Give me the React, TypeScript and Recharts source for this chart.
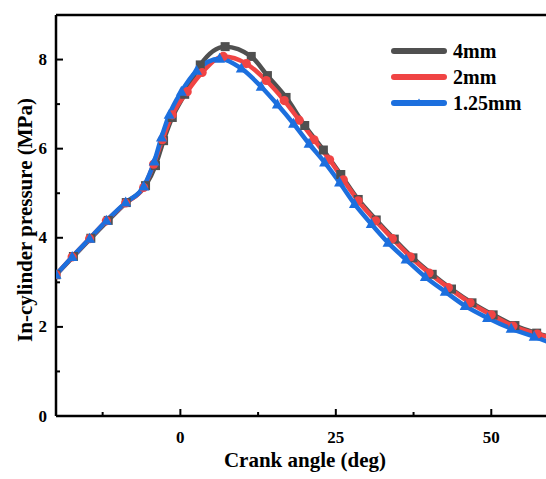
import React from 'react'
import { LineChart, Line, XAxis, YAxis, ReferenceLine, Label } from 'recharts'

// crank angle (deg) and pressure (MPa), one pair per series
const angle4mm = [-20, -17.2, -14.4, -11.6, -8.7, -5.6, -4.0, -2.7, -1.3, 0.7, 3.2, 7.2, 11.4, 14.0, 17.0, 20.0, 23.0, 25.8, 28.6, 31.5, 34.4, 37.4, 40.5, 43.6, 46.9, 50.3, 53.8, 57.3, 60]
const p4mm = [3.17, 3.58, 3.99, 4.39, 4.79, 5.17, 5.62, 6.18, 6.7, 7.22, 7.88, 8.29, 8.07, 7.64, 7.15, 6.52, 5.97, 5.42, 4.86, 4.4, 3.97, 3.55, 3.18, 2.85, 2.54, 2.27, 2.03, 1.86, 1.75]

const angle2mm = [-20, -17.4, -14.6, -11.9, -8.8, -5.9, -4.3, -2.9, -1.3, 1.1, 3.5, 6.9, 10.6, 13.8, 16.7, 19.1, 21.5, 24.0, 26.2, 28.6, 31.4, 34.1, 37.0, 40.0, 43.1, 46.6, 50.0, 53.5, 57.4, 60]
const p2mm = [3.17, 3.57, 3.98, 4.38, 4.78, 5.13, 5.65, 6.2, 6.76, 7.28, 7.71, 8.07, 7.91, 7.53, 7.08, 6.64, 6.2, 5.75, 5.3, 4.83, 4.38, 3.98, 3.57, 3.21, 2.88, 2.54, 2.27, 2.02, 1.84, 1.74]

const angle125 = [-20, -17.4, -14.6, -11.9, -8.8, -5.9, -4.2, -3.05, -1.8, 0.16, 2.6, 6.3, 9.8, 13.0, 15.6, 18.2, 20.7, 23.2, 25.6, 28.0, 30.7, 33.4, 36.3, 39.4, 42.6, 45.8, 49.4, 53.2, 56.9, 60]
const p125 = [3.17, 3.57, 3.98, 4.38, 4.79, 5.15, 5.71, 6.25, 6.76, 7.28, 7.75, 8.02, 7.8, 7.39, 6.99, 6.56, 6.11, 5.69, 5.24, 4.76, 4.31, 3.89, 3.51, 3.12, 2.79, 2.47, 2.2, 1.96, 1.78, 1.62]

const xTicks = [-12.5, 0, 12.5, 25, 37.5, 50]
const yTicks = [0, 1, 2, 3, 4, 5, 6, 7, 8]

const toRows = (xs: number[], ys: number[]) => xs.map((x, i) => ({ x, p: ys[i] }))
const data4mm = toRows(angle4mm, p4mm)
const data2mm = toRows(angle2mm, p2mm)
const data125 = toRows(angle125, p125)

const FONT = '"Liberation Serif", "Times New Roman", serif'
const GRAY = '#505050'
const RED = '#f04444'
const BLUE = '#1c6fde'

const XTick = (props: any) => {
  const { x, y, payload } = props
  const major = payload.value % 25 === 0
  return (
    <g>
      <line x1={x} x2={x} y1={y} y2={y - (major ? 7 : 4)} stroke="#000" strokeWidth={2} />
      {major && (
        <text x={x} y={y + 21} textAnchor="middle" dominantBaseline="central"
          fontFamily={FONT} fontWeight="bold" fontSize={17} fill="#000">
          {payload.value}
        </text>
      )}
    </g>
  )
}

const YTick = (props: any) => {
  const { x, y, payload } = props
  const major = payload.value % 2 === 0
  return (
    <g>
      <line x1={x} x2={x + (major ? 7 : 4)} y1={y} y2={y} stroke="#000" strokeWidth={2} />
      {major && (
        <text x={x - 9} y={y} textAnchor="end" dominantBaseline="central"
          fontFamily={FONT} fontWeight="bold" fontSize={17} fill="#000">
          {payload.value}
        </text>
      )}
    </g>
  )
}

const Square = (props: any) => {
  const { cx, cy, index } = props
  return <rect key={index} x={cx - 4.5} y={cy - 4.5} width={9} height={9} fill={GRAY} />
}
const Circle = (props: any) => {
  const { cx, cy, index } = props
  return <circle key={index} cx={cx} cy={cy} r={4.6} fill={RED} />
}
const Triangle = (props: any) => {
  const { cx, cy, index } = props
  return <path key={index} d={`M${cx},${cy - 6} L${cx + 5.5},${cy + 4} L${cx - 5.5},${cy + 4} Z`} fill={BLUE} />
}

const legendItems = [
  { name: '4mm', color: GRAY, shape: 'square' },
  { name: '2mm', color: RED, shape: 'circle' },
  { name: '1.25mm', color: BLUE, shape: 'triangle' },
]

function LegendBox() {
  return (
    <div style={{ position: 'absolute', left: 388, top: 38 }}>
      {legendItems.map(item => (
        <div key={item.name} style={{ display: 'flex', alignItems: 'center', height: 26 }}>
          <svg width={62} height={12}>
            <line x1={6} x2={56} y1={6} y2={6} stroke={item.color} strokeWidth={6} strokeLinecap="round" />
            {item.shape === 'square' && <rect x={28} y={3} width={6} height={6} fill={item.color} />}
            {item.shape === 'circle' && <circle cx={31} cy={6} r={3} fill={item.color} />}
            {item.shape === 'triangle' && <path d="M31,1.5 L35,8 L27,8 Z" fill={item.color} />}
          </svg>
          <span style={{ fontFamily: FONT, fontWeight: 'bold', fontSize: 20, marginLeft: 3, color: '#000' }}>
            {item.name}
          </span>
        </div>
      ))}
    </div>
  )
}

export default function App() {
  return (
    <div style={{ position: 'absolute', left: 0, top: 0, width: 546, height: 479, background: '#fff' }}>
      <LineChart width={546} height={479} margin={{ top: 15, right: 0, bottom: 0, left: 0 }}>
        <XAxis
          type="number"
          dataKey="x"
          domain={[-20, 58.8]}
          allowDataOverflow
          ticks={xTicks}
          interval={0}
          height={63}
          tickSize={0}
          tickMargin={0}
          tickLine={false}
          tick={<XTick />}
          axisLine={{ stroke: '#000', strokeWidth: 2.5 }}
        >
          <Label
            content={() => (
              <text x={305} y={460} textAnchor="middle" dominantBaseline="central"
                fontFamily={FONT} fontWeight="bold" fontSize={21} fill="#000">
                Crank angle (deg)
              </text>
            )}
          />
        </XAxis>
        <YAxis
          type="number"
          domain={[0, 9]}
          allowDataOverflow
          ticks={yTicks}
          interval={0}
          width={56}
          tickSize={0}
          tickMargin={0}
          tickLine={false}
          tick={<YTick />}
          axisLine={{ stroke: '#000', strokeWidth: 2.5 }}
        >
          <Label
            content={() => (
              <text x={25} y={220} transform="rotate(-90 25 220)" textAnchor="middle" dominantBaseline="central"
                fontFamily={FONT} fontWeight="bold" fontSize={21} fill="#000">
                In-cylinder pressure (MPa)
              </text>
            )}
          />
        </YAxis>
        <ReferenceLine y={9} stroke="#000" strokeWidth={2.5} ifOverflow="visible" />
        <Line data={data4mm} dataKey="p" type="monotone" stroke={GRAY} strokeWidth={4.5}
          dot={<Square />} activeDot={false} isAnimationActive={false} />
        <Line data={data2mm} dataKey="p" type="monotone" stroke={RED} strokeWidth={4.5}
          dot={<Circle />} activeDot={false} isAnimationActive={false} />
        <Line data={data125} dataKey="p" type="monotone" stroke={BLUE} strokeWidth={4.5}
          dot={<Triangle />} activeDot={false} isAnimationActive={false} />
      </LineChart>
      <LegendBox />
    </div>
  )
}
